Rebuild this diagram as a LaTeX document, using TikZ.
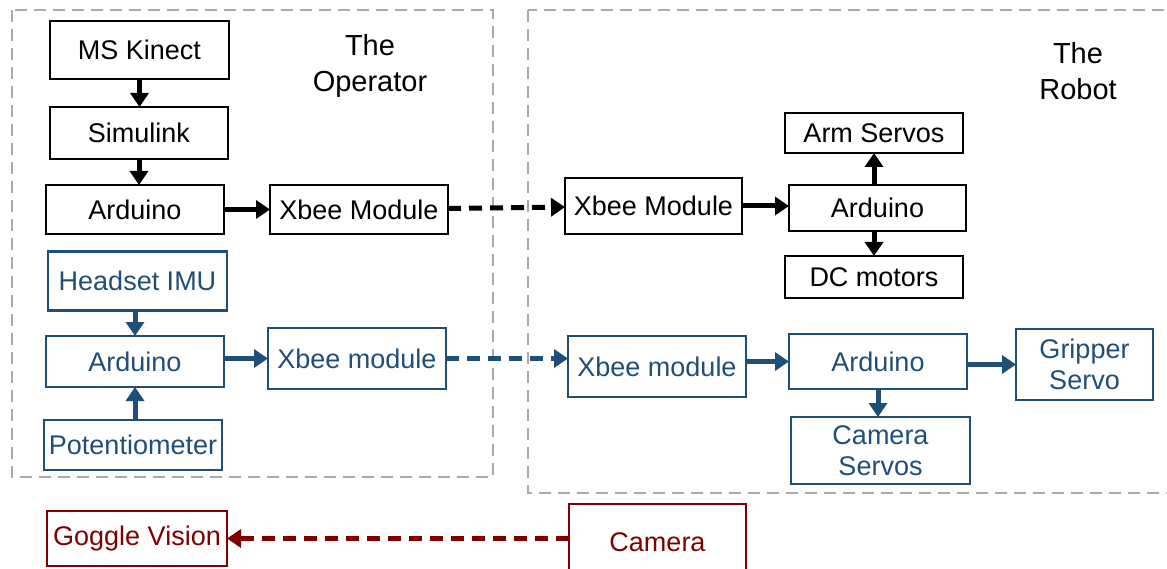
\documentclass[tikz,border=0pt]{standalone}
\usepackage{fontspec}
\setmainfont{Liberation Sans}
\usetikzlibrary{arrows.meta}
\definecolor{opblue}{RGB}{31,78,121}
\definecolor{camred}{RGB}{128,0,0}
\definecolor{framegray}{RGB}{170,170,170}
\begin{document}
\begin{tikzpicture} [x=1pt, y=-1pt,
  box/.style={draw, line width=2.2pt, inner sep=0pt, outer sep=0pt, font=\fontsize{27}{31}\selectfont, align=center},
  flow/.style={line width=5pt, -{Triangle[length=14pt, width=18pt]}},
  link/.style={flow, dash pattern=on 13pt off 8pt},
  frame/.style={framegray, line width=2pt, dash pattern=on 12pt off 7pt}]
\useasboundingbox (0, 0) rectangle (1167, 569);
\draw[frame] (12, 10) rectangle (493, 477);
\draw[frame] (528, 10) rectangle (1180, 493);
\node[font=\fontsize{29}{36}\selectfont, align=center] (optitle) at (370, 66) {The\\Operator};
\node[font=\fontsize{29}{36}\selectfont, align=center] (robtitle) at (1078, 71) {The\\Robot};
\node[box, minimum width=179, minimum height=58] (kinect) at (139.5, 50) {MS Kinect};
\node[box, minimum width=178, minimum height=52] (simulink) at (139, 133) {Simulink};
\node[box, minimum width=178, minimum height=49] (ardop) at (135, 209.5) {Arduino};
\node[box, minimum width=178, minimum height=49] (xbeeop) at (359, 209.5) {Xbee Module};
\node[box, minimum width=177, minimum height=56] (xbeerob) at (653.5, 206) {Xbee Module};
\node[box, minimum width=177, minimum height=46] (ardrob) at (877.5, 208) {Arduino};
\node[box, minimum width=178, minimum height=40] (arm) at (874, 133) {Arm Servos};
\node[box, minimum width=178, minimum height=42] (dc) at (874, 277) {DC motors};
\node[box, opblue, minimum width=179, minimum height=59] (headset) at (137.5, 281) {Headset IMU};
\node[box, opblue, minimum width=178, minimum height=51] (ardopb) at (135, 361.5) {Arduino};
\node[box, opblue, minimum width=178, minimum height=50] (pot) at (133, 445) {Potentiometer};
\node[box, opblue, minimum width=178, minimum height=61] (xbeeopb) at (357, 358.5) {Xbee module};
\node[box, opblue, minimum width=178, minimum height=61] (xbeerobb) at (657, 366.5) {Xbee module};
\node[box, opblue, minimum width=178, minimum height=55] (ardrobb) at (878, 361.5) {Arduino};
\node[box, opblue, minimum width=137, minimum height=71] (gripper) at (1084.5, 364.5) {Gripper\\Servo};
\node[box, opblue, minimum width=179, minimum height=67] (camservo) at (880.5, 450.5) {Camera\\Servos};
\node[box, camred, minimum width=177, minimum height=76] (camera) at (657.5, 542) {Camera};
\node[box, camred, minimum width=180, minimum height=55] (goggle) at (137, 538.5) {Goggle Vision};
\draw[flow] (kinect.south) -- (kinect.south |- simulink.north);
\draw[flow] (simulink.south) -- (simulink.south |- ardop.north);
\draw[flow] (ardop) -- (xbeeop);
\draw[link] (xbeeop) -- (xbeerob);
\draw[flow] (xbeerob.east) -- (xbeerob.east -| ardrob.west);
\draw[flow] (ardrob.north -| arm.south) -- (arm.south);
\draw[flow] (ardrob.south -| dc.north) -- (dc.north);
\draw[flow, opblue] (headset.south -| ardopb.north) -- (ardopb.north);
\draw[flow, opblue] (pot.north -| ardopb.south) -- (ardopb.south);
\draw[flow, opblue] (ardopb.east |- xbeeopb.west) -- (xbeeopb.west);
\draw[link, opblue] (xbeeopb.east) -- (xbeeopb.east -| xbeerobb.west);
\draw[flow, opblue] (xbeerobb.east |- ardrobb.west) -- (ardrobb.west);
\draw[flow, opblue] (ardrobb.east |- gripper.west) -- (gripper.west);
\draw[flow, opblue] (ardrobb.south) -- (ardrobb.south |- camservo.north);
\draw[link, camred] (goggle.east -| camera.west) -- (goggle.east);
\end{tikzpicture}
\end{document}
